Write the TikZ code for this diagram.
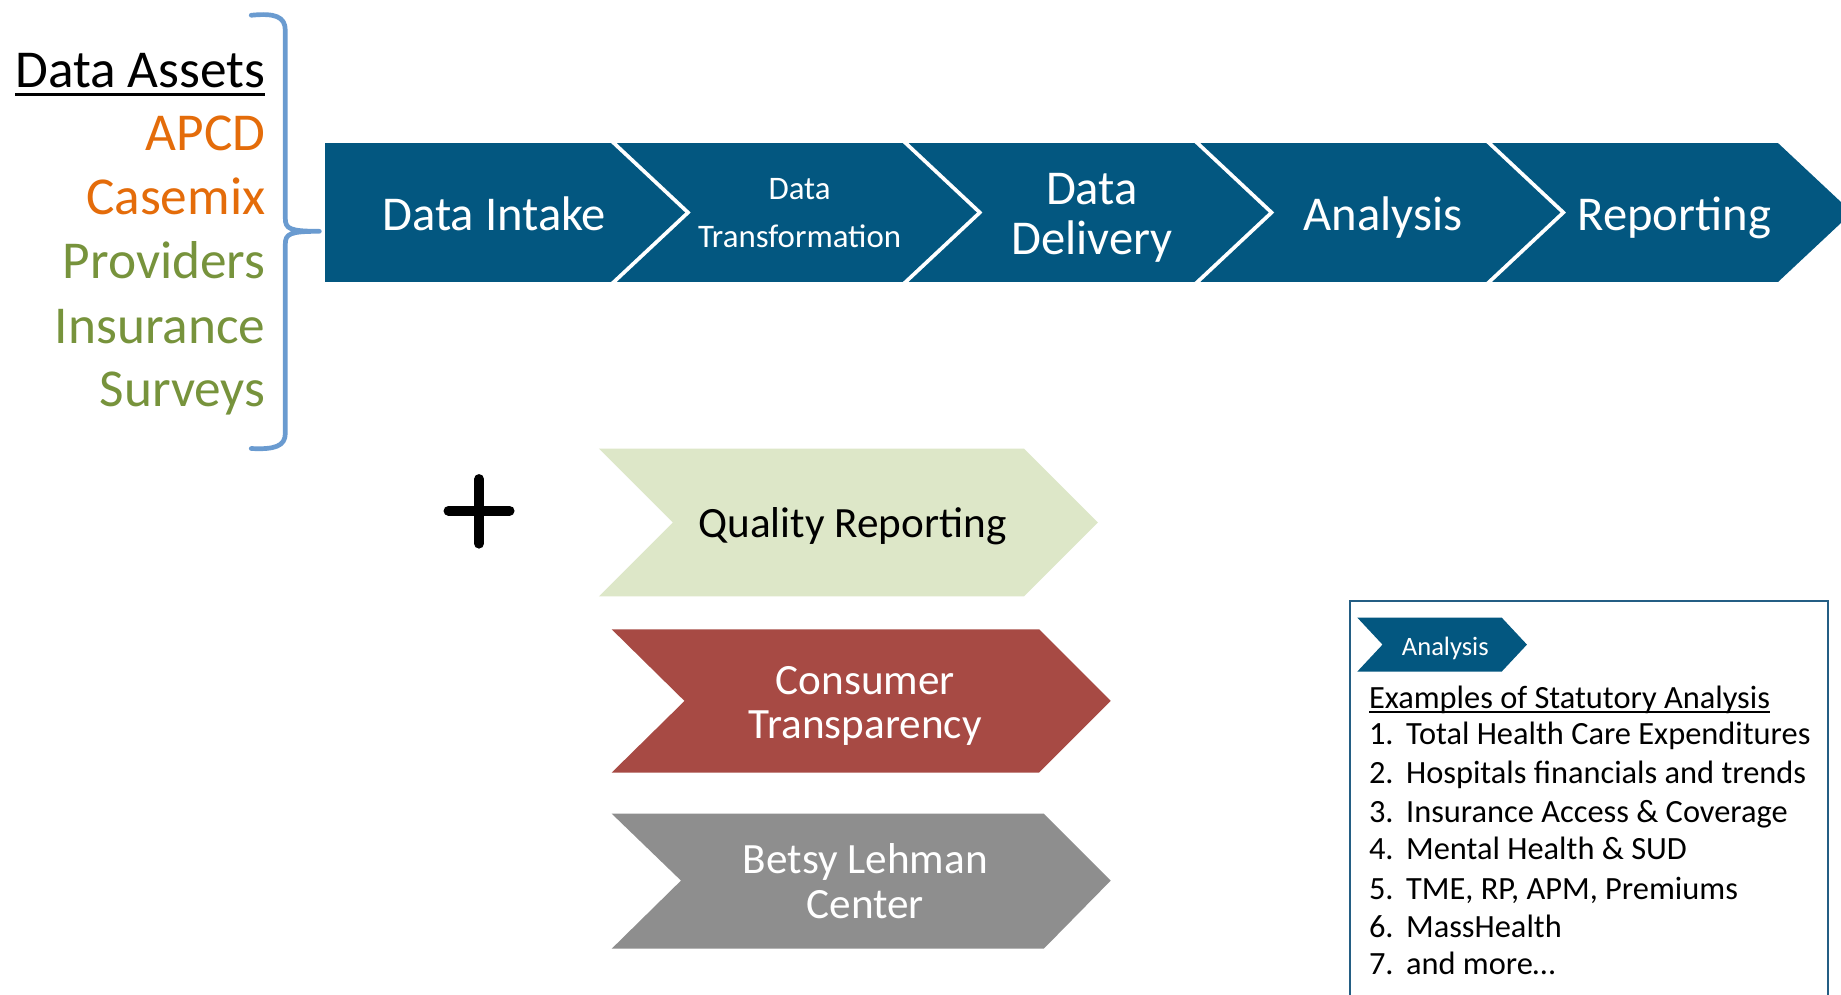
\documentclass[tikz,border=0pt]{standalone}
\usepackage{fontspec}
\setmainfont{Carlito}
\definecolor{barblue}{RGB}{3,87,128}
\definecolor{qualgreen}{RGB}{221,231,200}
\definecolor{consred}{RGB}{167,74,68}
\definecolor{betsygray}{RGB}{142,142,142}
\definecolor{assetorange}{RGB}{228,108,10}
\definecolor{assetgreen}{RGB}{119,147,60}
\definecolor{braceblue}{RGB}{106,155,208}
\definecolor{boxblue}{RGB}{36,94,132}
\begin{document}
\begin{tikzpicture}[x=1pt,y=-1pt,
  txt/.style={inner sep=0pt, outer sep=0pt},
  topbig/.style={txt, text=white, align=center, font={\fontsize{41.4}{43}\selectfont}},
  topsmall/.style={txt, text=white, align=center, font={\fontsize{28}{40.3}\selectfont}},
  asset/.style={txt, anchor=base east, font={\fontsize{45.4}{54}\selectfont}},
  lower/.style={txt, align=center, font={\fontsize{36.8}{38}\selectfont}},
  listitem/.style={txt, anchor=base west, font={\fontsize{27.6}{32}\selectfont}},
  uline/.style={line width=2.4pt},
  bracestyle/.style={draw=braceblue, line width=4pt, line cap=round, line join=round}
]
\useasboundingbox (0,0) rectangle (1568,846.6);
\clip (0,0) rectangle (1568,846.6);
\fill[white] (0,0) rectangle (1568,846.6);

% ---- top process bar ----
\foreach \k in {0,...,4}{
  \pgfmathsetmacro{\L}{277+248.5*\k}
  \pgfmathsetmacro{\R}{\L+243.5}
  \pgfmathsetmacro{\T}{\R+63}
  \pgfmathsetmacro{\N}{\k==0 ? \L : \L+63}
  \fill[barblue] (\L,122) -- (\R,122) -- (\T,181) -- (\R,240) -- (\L,240) -- (\N,181) -- cycle;
}
\node[topbig, anchor=base] (intake) at (421,196) {Data Intake};
\node[topsmall] (transf) at (681,181.5) {Data\\Transformation};
\node[topbig] (deliv) at (930,185.5) {Data\\Delivery};
\node[topbig, anchor=base] (analysis) at (1178,196) {Analysis};
\node[topbig, anchor=base] (report) at (1426,196) {Reporting};

% ---- data assets ----
\node[asset] (assets) at (226,74.4) {Data Assets};
\draw[uline] ([yshift=-6pt]assets.base west) -- ([yshift=-6pt]assets.base east);
\node[asset, text=assetorange] (apcd) at (226,128.3) {APCD};
\node[asset, text=assetorange] (casemix) at (226,183.1) {Casemix};
\node[asset, text=assetgreen] (providers) at (226,237) {Providers};
\node[asset, text=assetgreen] (insurance) at (226,292.4) {Insurance};
\node[asset, text=assetgreen] (surveys) at (226,346.4) {Surveys};

% brace
\coordinate (bracetip) at (272,197);
\draw[bracestyle] (214,13) .. controls (234,11) and (243,14) .. (243,26) -- (243,186)
   .. controls (243,195) and (247,197) .. (bracetip)
   .. controls (247,197) and (243,199) .. (243,208) -- (243,369)
   .. controls (243,380) and (234,383) .. (214,382);

% plus sign
\draw[line width=8.5pt, line cap=round] (382,435) -- (434,435) (408,408) -- (408,463);

% ---- lower chevrons ----
\fill[qualgreen] (510,382) -- (872,382) -- (935,445) -- (872,508) -- (510,508) -- (573,445) -- cycle;
\node[lower, anchor=base] (quality) at (726,457.5) {Quality Reporting};
\fill[consred] (521,536) -- (885,536) -- (946,597) -- (885,658) -- (521,658) -- (583,597) -- cycle;
\node[lower, text=white] (consumer) at (737,601.4) {Consumer\\Transparency};
\fill[betsygray] (521,693) -- (889,693) -- (946,750) -- (889,808) -- (521,808) -- (580,750) -- cycle;
\node[lower, text=white] (betsy) at (737,750.7) {Betsy Lehman\\Center};

% ---- analysis box ----
\draw[boxblue, line width=1.6pt] (1150,512) rectangle (1557,870);
\fill[barblue] (1156,526) -- (1279,526) -- (1300.5,549) -- (1279,572) -- (1156,572) -- (1177.5,549) -- cycle;
\node[txt, anchor=base, text=white, font={\fontsize{22.6}{26}\selectfont}] (smallan) at (1231,558) {Analysis};
\node[listitem] (examples) at (1166,603) {Examples of Statutory Analysis};
\draw[line width=1.8pt] ([yshift=-3.5pt]examples.base west) -- ([yshift=-3.5pt]examples.base east);
\node[listitem] (it1) at (1166,634.5) {\makebox[31.6pt][l]{1.}Total Health Care Expenditures};
\node[listitem] (it2) at (1166,667) {\makebox[31.6pt][l]{2.}Hospitals financials and trends};
\node[listitem] (it3) at (1166,700.2) {\makebox[31.6pt][l]{3.}Insurance Access \& Coverage};
\node[listitem] (it4) at (1166,732.2) {\makebox[31.6pt][l]{4.}Mental Health \& SUD};
\node[listitem] (it5) at (1166,766.2) {\makebox[31.6pt][l]{5.}TME, RP, APM, Premiums};
\node[listitem] (it6) at (1166,798.2) {\makebox[31.6pt][l]{6.}MassHealth};
\node[listitem] (it7) at (1166,830) {\makebox[31.6pt][l]{7.}and more…};
\end{tikzpicture}
\end{document}
